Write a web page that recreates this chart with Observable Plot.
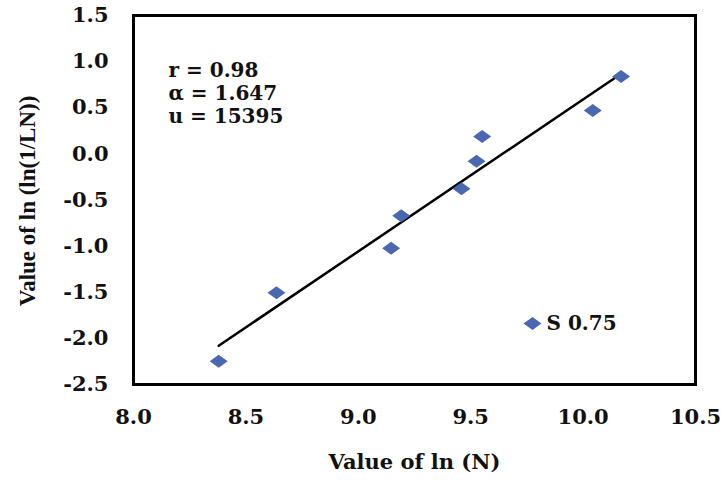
<!DOCTYPE html>
<html>
<head>
<meta charset="utf-8">
<script src="https://cdn.jsdelivr.net/npm/d3@7"></script>
<script src="https://cdn.jsdelivr.net/npm/@observablehq/plot@0.6"></script>
<style>
  html, body { margin: 0; padding: 0; background: white; }
</style>
</head>
<body>
<div id="chart"></div>
<script>
// ---- data ----
const lnN    = [8.379, 8.636, 9.146, 9.191, 9.459, 9.526, 9.551, 10.043, 10.169];
const lnlnLN = [-2.247, -1.506, -1.022, -0.671, -0.379, -0.079, 0.188, 0.470, 0.839];
const xTicks = [8.0, 8.5, 9.0, 9.5, 10.0, 10.5];
const yTicks = [-2.5, -2.0, -1.5, -1.0, -0.5, 0.0, 0.5, 1.0, 1.5];
const rValue = "0.98";
const alpha = 1.647;
const u = 15395;
const seriesName = "S 0.75";
const xTitle = "Value of ln (N)";
const yTitle = "Value of ln (ln(1/LN))";

// ---- derived tables ----
const points = lnN.map((x, i) => ({x, y: lnlnLN[i]}));
const lnu = Math.log(u);
const trend = d3.extent(lnN).map(x => ({x, y: alpha * (x - lnu)}));
const stats = `r = ${rValue}\nα = ${alpha}\nu = ${u}`;

const blue = "#4a68b0";
const diamond = {
  draw(context, size) {
    const s = Math.sqrt(size / Math.PI);
    const hw = 1.38 * s, hh = 1.0 * s;
    context.moveTo(0, -hh);
    context.lineTo(hw, 0);
    context.lineTo(0, hh);
    context.lineTo(-hw, 0);
    context.closePath();
  }
};
const fmt = d => d.toFixed(1);
const serif = "'DejaVu Serif', serif";

const chart = Plot.plot({
  width: 724,
  height: 480,
  marginLeft: 133,
  marginRight: 29,
  marginTop: 15,
  marginBottom: 96,
  style: {fontFamily: serif, fontWeight: "bold", fontSize: "21px", color: "#111", background: "white", overflow: "visible"},
  x: {domain: [8, 10.5], ticks: xTicks, tickFormat: fmt, tickSize: 0, tickPadding: 25, label: null},
  y: {domain: [-2.5, 1.5], ticks: yTicks, tickFormat: fmt, tickSize: 0, tickPadding: 25, label: null},
  marks: [
    Plot.frame({stroke: "black", strokeWidth: 3}),
    Plot.line(trend, {x: "x", y: "y", stroke: "black", strokeWidth: 2.5}),
    Plot.dot(points, {x: "x", y: "y", symbol: diamond, r: 6.5, fill: blue, stroke: "none"}),
    Plot.text([stats], {text: d => d, frameAnchor: "top-left", dx: 35, dy: 77, lineAnchor: "middle",
      textAnchor: "start", lineHeight: 1.17, fontSize: 20, fontWeight: "bold", fontFamily: serif, fill: "#111"}),
    Plot.dot([seriesName], {frameAnchor: "top-left", dx: 399, dy: 308, symbol: diamond, r: 6.5, fill: blue, stroke: "none"}),
    Plot.text([seriesName], {text: d => d, frameAnchor: "top-left", dx: 413, dy: 308, textAnchor: "start",
      lineAnchor: "middle", fontSize: 20, fontWeight: "bold", fontFamily: serif, fill: "#111"}),
    Plot.text([xTitle], {text: d => d, frameAnchor: "bottom", dy: 78, lineAnchor: "middle", textAnchor: "middle",
      fontSize: 21, fontWeight: "bold", fontFamily: serif, fill: "#111"}),
    Plot.text([yTitle], {text: d => d, frameAnchor: "left", dx: -106, dy: 1, rotate: -90, lineAnchor: "middle",
      textAnchor: "middle", fontSize: 23, fontWeight: "bold", fontFamily: "'Liberation Serif', serif", fill: "#111"})
  ]
});
document.getElementById("chart").appendChild(chart);
</script>
</body>
</html>
